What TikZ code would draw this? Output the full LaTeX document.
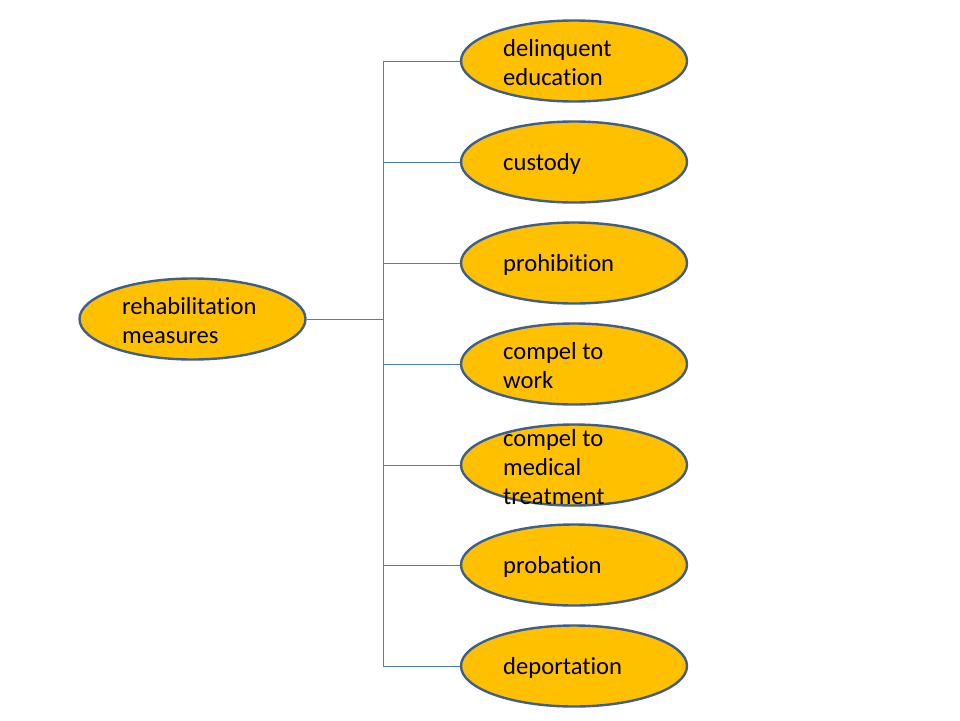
\documentclass[tikz,border=0pt]{standalone}
\usepackage{fontspec}
\setmainfont[Ligatures={NoCommon}]{Carlito}
\usetikzlibrary{shapes.geometric}
\definecolor{fillc}{HTML}{FFC000}
\definecolor{edgec}{HTML}{3F5F8A}
\definecolor{linec}{HTML}{4A7EBB}
\begin{document}
\begin{tikzpicture}[x=1pt,y=-1pt,
  oval/.style={ellipse,draw=edgec,fill=fillc,line width=2.4pt,minimum width=226pt,minimum height=81pt,inner sep=0pt},
  lbl/.style={anchor=west,align=left,font=\fontsize{24.6}{29}\selectfont,inner sep=0pt,text=black},
  conn/.style={draw=linec,line width=1pt}]
\useasboundingbox (0,0) rectangle (960,720);
\node[oval] (root) at (192.5,319) {};
\node[lbl] (rootT) at (122,321) {rehabilitation\\measures};
\coordinate (bus) at (383,319);
\coordinate (top) at (383,61);
\coordinate (bot) at (383,666);
\foreach \n/\y in {a/61,b/162,c/263,d/364,e/465,f/565,g/666}{
  \node[oval] (\n) at (574,\y) {};
  \coordinate (\n J) at (383,\y);
  \draw[conn] (\n J) -- (\n.west);
}
\foreach \n/\y/\t in {a/61/{delinquent\\education},b/162/{custody},c/263/{prohibition},d/364/{compel to\\work},e/465/{compel to\\medical\\treatment},f/565/{probation},g/666/{deportation}}{
  \node[lbl] (\n T) at (503,\y+2) {\t};
}
\draw[conn] (root.east) -- (bus);
\draw[conn] (top) -- (bot);
\end{tikzpicture}
\end{document}
